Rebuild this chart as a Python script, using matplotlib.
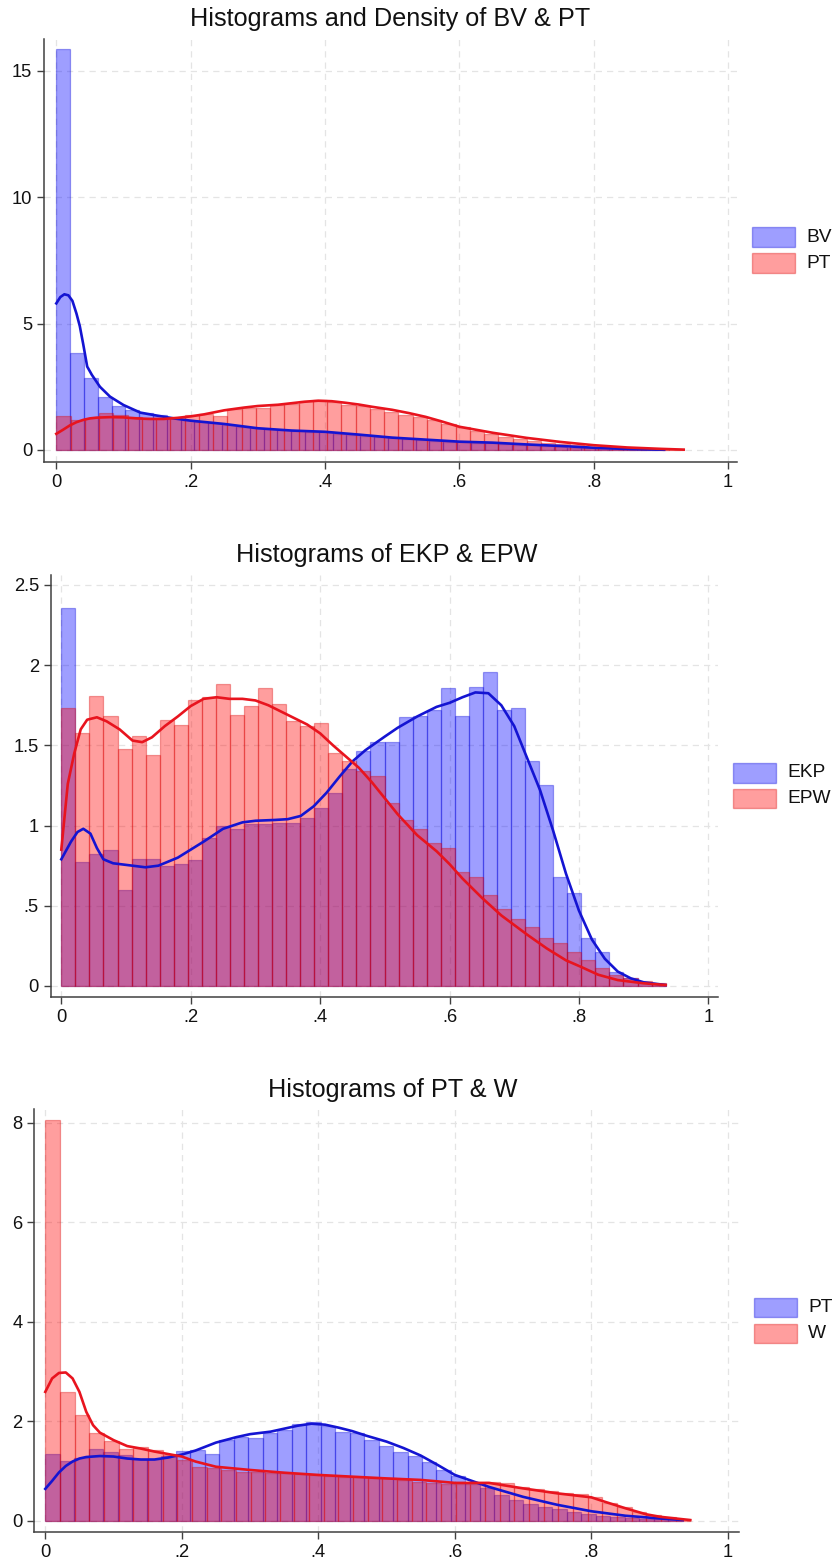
import numpy as np
import matplotlib
matplotlib.use("Agg")
import matplotlib.pyplot as plt
from matplotlib.patches import Rectangle

plt.rcParams['font.family'] = ['Liberation Sans', 'DejaVu Sans']

# ---------------- data ----------------
# Panel 1: BV (blue) and PT (red)
BV_hist = [15.85, 3.83, 2.86, 2.11, 1.74, 1.58, 1.45, 1.38, 1.28, 1.18,
           1.12, 1.05, 0.98, 0.90, 0.86, 0.82, 0.78, 0.76, 0.73, 0.70,
           0.64, 0.60, 0.55, 0.50, 0.46, 0.43, 0.39, 0.35, 0.33, 0.31,
           0.29, 0.26, 0.24, 0.21, 0.18, 0.15, 0.12, 0.09, 0.07, 0.05,
           0.035, 0.025, 0.02, 0.01]
BV_max = 0.905
PT_hist = [1.35, 1.20, 1.27, 1.45, 1.39, 1.32, 1.24, 1.24, 1.30, 1.40,
           1.42, 1.35, 1.62, 1.68, 1.66, 1.77, 1.82, 1.95, 1.99, 1.90,
           1.78, 1.76, 1.62, 1.50, 1.39, 1.30, 1.19, 1.02, 0.89, 0.75,
           0.65, 0.52, 0.42, 0.34, 0.27, 0.23, 0.18, 0.13, 0.09, 0.07,
           0.05, 0.034, 0.027, 0.02]
PT_max = 0.934

BV_kde_x = [0, 0.006, 0.012, 0.018, 0.024, 0.03, 0.035, 0.04, 0.046, 0.053,
            0.065, 0.08, 0.1, 0.125, 0.15, 0.175, 0.2, 0.25, 0.3, 0.35,
            0.4, 0.45, 0.5, 0.55, 0.6, 0.65, 0.7, 0.75, 0.8, 0.85, 0.905]
BV_kde_y = [5.80, 6.05, 6.16, 6.12, 5.90, 5.40, 4.90, 4.20, 3.30, 2.97,
            2.50, 2.11, 1.78, 1.48, 1.36, 1.25, 1.16, 1.03, 0.86, 0.77,
            0.72, 0.61, 0.49, 0.41, 0.33, 0.29, 0.22, 0.16, 0.09, 0.04, 0.01]

PT_kde_x = [0, 0.01, 0.02, 0.03, 0.04, 0.05, 0.06, 0.08, 0.10, 0.12,
            0.14, 0.16, 0.18, 0.20, 0.22, 0.25, 0.28, 0.30, 0.33, 0.35,
            0.37, 0.39, 0.41, 0.43, 0.45, 0.47, 0.50, 0.525, 0.55, 0.575,
            0.60, 0.625, 0.65, 0.70, 0.75, 0.80, 0.85, 0.90, 0.934]
PT_kde_y = [0.64, 0.80, 0.97, 1.10, 1.19, 1.25, 1.28, 1.30, 1.29, 1.25,
            1.23, 1.23, 1.27, 1.33, 1.41, 1.57, 1.68, 1.74, 1.79, 1.85,
            1.91, 1.95, 1.93, 1.87, 1.80, 1.71, 1.59, 1.46, 1.31, 1.12,
            0.92, 0.80, 0.68, 0.48, 0.32, 0.19, 0.10, 0.045, 0.015]

# Panel 2: EKP (blue) and EPW (red)
EKP_hist = [2.355, 0.77, 0.82, 0.85, 0.60, 0.79, 0.79, 0.745, 0.76, 0.785,
            0.92, 1.0, 0.98, 1.01, 1.01, 1.015, 1.015, 1.045, 1.11, 1.20,
            1.35, 1.467, 1.52, 1.52, 1.675, 1.68, 1.72, 1.86, 1.68, 1.866,
            1.96, 1.72, 1.73, 1.40, 1.25, 0.68, 0.58, 0.30, 0.21, 0.09,
            0.05, 0.02, 0.01]
EPW_hist = [1.73, 1.575, 1.81, 1.68, 1.48, 1.56, 1.44, 1.66, 1.63, 1.78,
            1.80, 1.88, 1.69, 1.745, 1.86, 1.76, 1.65, 1.62, 1.64, 1.45,
            1.40, 1.34, 1.31, 1.14, 1.035, 0.98, 0.89, 0.86, 0.71, 0.68,
            0.57, 0.48, 0.42, 0.37, 0.30, 0.27, 0.21, 0.16, 0.11, 0.07,
            0.05, 0.03, 0.02]
EKP_max = 0.934
EPW_max = 0.934

EKP_kde_x = [0, 0.015, 0.025, 0.034, 0.045, 0.055, 0.065, 0.08, 0.1, 0.13,
             0.15, 0.18, 0.2, 0.22, 0.25, 0.28, 0.3, 0.33, 0.35, 0.37,
             0.39, 0.41, 0.43, 0.45, 0.47, 0.5, 0.52, 0.55, 0.58, 0.6,
             0.62, 0.64, 0.66, 0.68, 0.7, 0.72, 0.74, 0.76, 0.78, 0.8,
             0.82, 0.84, 0.86, 0.88, 0.9, 0.934]
EKP_kde_y = [0.79, 0.90, 0.96, 0.98, 0.95, 0.86, 0.79, 0.765, 0.755, 0.74,
             0.75, 0.80, 0.85, 0.90, 0.98, 1.02, 1.03, 1.035, 1.04, 1.06,
             1.12, 1.205, 1.305, 1.40, 1.47, 1.555, 1.61, 1.68, 1.74, 1.765,
             1.80, 1.83, 1.825, 1.75, 1.62, 1.42, 1.22, 0.97, 0.70, 0.47,
             0.29, 0.17, 0.09, 0.048, 0.023, 0.006]
EPW_kde_x = [0, 0.01, 0.02, 0.03, 0.04, 0.055, 0.07, 0.09, 0.11, 0.125,
             0.14, 0.16, 0.18, 0.2, 0.22, 0.24, 0.26, 0.28, 0.3, 0.32,
             0.34, 0.36, 0.38, 0.4, 0.42, 0.44, 0.46, 0.48, 0.5, 0.52,
             0.55, 0.58, 0.6, 0.62, 0.65, 0.68, 0.7, 0.72, 0.75, 0.78,
             0.8, 0.83, 0.86, 0.9, 0.934]
EPW_kde_y = [0.85, 1.26, 1.45, 1.60, 1.66, 1.675, 1.65, 1.60, 1.53, 1.52,
             1.55, 1.62, 1.68, 1.745, 1.79, 1.80, 1.79, 1.79, 1.78, 1.75,
             1.71, 1.67, 1.63, 1.575, 1.50, 1.43, 1.36, 1.27, 1.17, 1.07,
             0.94, 0.84, 0.76, 0.67, 0.55, 0.44, 0.38, 0.32, 0.235, 0.16,
             0.125, 0.07, 0.037, 0.017, 0.006]

# Panel 3: PT (blue) and W (red)
W_hist = [8.05, 2.59, 2.12, 1.755, 1.61, 1.45, 1.49, 1.42, 1.32, 1.22,
          1.085, 1.05, 1.02, 0.985, 0.985, 0.965, 0.95, 0.93, 0.92, 0.90,
          0.885, 0.87, 0.865, 0.85, 0.82, 0.78, 0.75, 0.73, 0.74, 0.74,
          0.78, 0.76, 0.67, 0.63, 0.60, 0.55, 0.53, 0.47, 0.36, 0.27,
          0.18, 0.11, 0.067, 0.034]
W_max = 0.945
W_kde_x = [0, 0.01, 0.02, 0.03, 0.04, 0.05, 0.06, 0.07, 0.08, 0.1,
           0.12, 0.14, 0.16, 0.18, 0.2, 0.22, 0.25, 0.3, 0.35, 0.4,
           0.45, 0.5, 0.55, 0.6, 0.65, 0.7, 0.75, 0.8, 0.82, 0.85,
           0.88, 0.9, 0.945]
W_kde_y = [2.59, 2.86, 2.97, 2.98, 2.86, 2.59, 2.19, 1.92, 1.77, 1.62,
           1.50, 1.45, 1.39, 1.34, 1.29, 1.19, 1.085, 1.02, 0.965, 0.92,
           0.885, 0.85, 0.82, 0.76, 0.76, 0.65, 0.55, 0.47, 0.38, 0.25,
           0.13, 0.08, 0.013]

titles = ["Histograms and Density of BV & PT",
          "Histograms of EKP & EPW",
          "Histograms of PT & W"]
legend_labels = [("BV", "PT"), ("EKP", "EPW"), ("PT", "W")]
x_ticks = [0, 0.2, 0.4, 0.6, 0.8, 1.0]
x_ticklabels = ["0", ".2", ".4", ".6", ".8", "1"]
y_ticks = [[0, 5, 10, 15], [0, 0.5, 1, 1.5, 2, 2.5], [0, 2, 4, 6, 8]]
y_ticklabels = [["0", "5", "10", "15"], ["0", ".5", "1", "1.5", "2", "2.5"],
                ["0", "2", "4", "6", "8"]]

# ---------------- styling ----------------
W_PX, H_PX = 834, 1559
BLUE_FILL = (0.0, 0.0, 1.0, 0.38)
RED_FILL = (1.0, 0.0, 0.0, 0.38)
BLUE_EDGE = (0.0, 0.0, 0.85, 0.35)
RED_EDGE = (0.85, 0.0, 0.0, 0.35)
BLUE_LINE = "#1414d2"
RED_LINE = "#e8141e"
AXIS_COL = "#404040"
GRID_COL = "#e4e4e4"

fig = plt.figure(figsize=(W_PX / 100, H_PX / 100), dpi=100)


def rect(l, r, t, b):
    return [l / W_PX, 1 - b / H_PX, (r - l) / W_PX, (b - t) / H_PX]


def draw_hist(ax, heights, vmax, fill, edge):
    n = len(heights)
    edges = np.linspace(0, vmax, n + 1)
    ax.bar(edges[:-1], heights, width=edges[1] - edges[0], align='edge',
           facecolor=fill, edgecolor=edge, linewidth=0.9, zorder=2)


panels = [
    dict(r=rect(44, 737, 39, 462), xlim=(-0.0183, 1.0134), ylim=(-0.475, 16.26),
         blue=(BV_hist, BV_max, BV_kde_x, BV_kde_y),
         red=(PT_hist, PT_max, PT_kde_x, PT_kde_y),
         title_xy=(390, 19),
         leg=(751.7, 795, [(227, 247), (253, 273)], 806)),
    dict(r=rect(50.7, 718.3, 575, 996.7), xlim=(-0.0164, 1.0154), ylim=(-0.0667, 2.562),
         blue=(EKP_hist, EKP_max, EKP_kde_x, EKP_kde_y),
         red=(EPW_hist, EPW_max, EPW_kde_x, EPW_kde_y),
         title_xy=(387, 555),
         leg=(733, 776, [(763, 783), (789, 808)], 787)),
    dict(r=rect(34.3, 739.3, 1109.3, 1532.3), xlim=(-0.0161, 1.0168), ylim=(-0.233, 8.27),
         blue=(PT_hist, PT_max, PT_kde_x, PT_kde_y),
         red=(W_hist, W_max, W_kde_x, W_kde_y),
         title_xy=(393, 1090),
         leg=(754, 796.7, [(1297.7, 1317.3), (1324, 1343)], 808)),
]

for i, p in enumerate(panels):
    ax = fig.add_axes(p['r'])
    bh, bmax, bkx, bky = p['blue']
    rh, rmax, rkx, rky = p['red']
    draw_hist(ax, bh, bmax, BLUE_FILL, BLUE_EDGE)
    draw_hist(ax, rh, rmax, RED_FILL, RED_EDGE)
    ax.plot(bkx, bky, color=BLUE_LINE, lw=1.9, zorder=4, solid_joinstyle='round')
    ax.plot(rkx, rky, color=RED_LINE, lw=1.9, zorder=4, solid_joinstyle='round')
    ax.set_xlim(*p['xlim'])
    ax.set_ylim(*p['ylim'])
    ax.set_xticks(x_ticks)
    ax.set_xticklabels(x_ticklabels)
    ax.set_yticks(y_ticks[i])
    ax.set_yticklabels(y_ticklabels[i])
    ax.grid(True, color=GRID_COL, linestyle=(0, (5, 4)), linewidth=0.9)
    ax.set_axisbelow(True)
    for s in ('top', 'right'):
        ax.spines[s].set_visible(False)
    for s in ('left', 'bottom'):
        ax.spines[s].set_color(AXIS_COL)
        ax.spines[s].set_linewidth(1.1)
    ax.tick_params(direction='out', length=5, width=1.0, color=AXIS_COL,
                   labelsize=13.2, labelcolor='#111111', pad=3.5)
    ax.set_facecolor('none')

    tx, ty = p['title_xy']
    fig.text(tx / W_PX, 1 - ty / H_PX, titles[i], ha='center', va='center',
             fontsize=18.2, color='#111111')

    lx0, lx1, ys, txt_x = p['leg']
    for (y0, y1), fill, edge, lab in zip(ys, (BLUE_FILL, RED_FILL),
                                         (BLUE_EDGE, RED_EDGE), legend_labels[i]):
        fig.add_artist(Rectangle((lx0 / W_PX, 1 - y1 / H_PX), (lx1 - lx0) / W_PX,
                                 (y1 - y0) / H_PX, transform=fig.transFigure,
                                 facecolor=fill, edgecolor=edge, linewidth=1.0))
        fig.text(txt_x / W_PX, 1 - ((y0 + y1) / 2) / H_PX, lab, ha='left',
                 va='center', fontsize=13.8, color='#111111')

fig.savefig("out.png", dpi=100, facecolor='white')
